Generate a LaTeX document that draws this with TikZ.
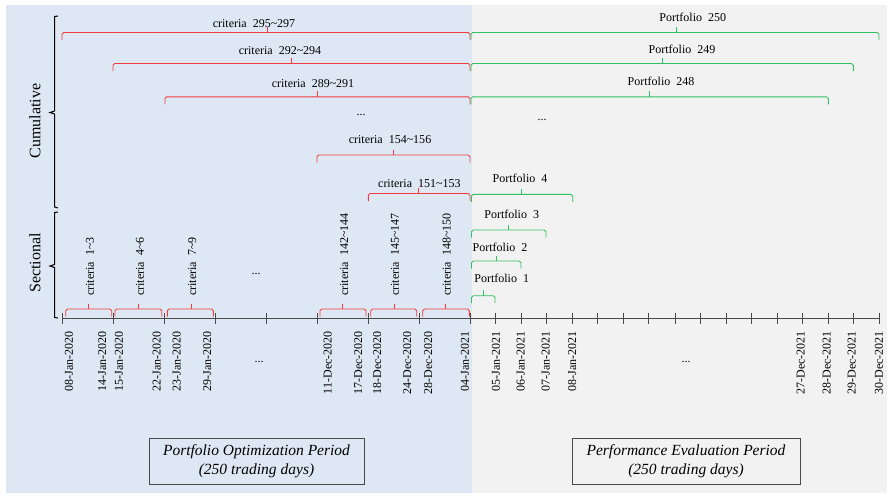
\documentclass[tikz,border=0pt]{standalone}
\usepackage{fontspec}
\setmainfont{Liberation Serif}
\definecolor{bgblue}{HTML}{DEE8F4}
\definecolor{bggrey}{HTML}{F2F2F2}
\definecolor{bred}{HTML}{F03C3C}
\definecolor{bgreen}{HTML}{33C060}
\definecolor{axisc}{HTML}{4A4A4A}
\newcommand\tlbr[6]{% name, colour, x1, x2, y, tip
  \coordinate (#1a) at (#3,#5+7.5);
  \coordinate (#1b) at (#4,#5+7.5);
  \coordinate (#1t) at (#6,#5-5.5);
  \draw[#2, brline, rounded corners=1.8pt] (#1a) -- (#3,#5) -- (#4,#5) -- (#1b);
  \draw[#2, brline] (#6,#5) -- (#1t);}
\tikzset{
  brline/.style={line width=0.9pt},
  lab/.style={font=\fontsize{12}{14}\selectfont, inner sep=0pt},
  datelab/.style={lab, rotate=90, anchor=east},
  vlab/.style={lab, rotate=90, anchor=west},
  sidelab/.style={font=\fontsize{16}{18}\selectfont, rotate=90, inner sep=0pt},
  periodbox/.style={draw=axisc, line width=0.7pt, font=\fontsize{15.5}{19}\selectfont\itshape,
    align=center, inner sep=0pt, minimum height=46pt},
  axline/.style={draw=axisc, line width=0.9pt},
}
\newcommand\crit[1]{criteria\ \ #1}
\newcommand\pf[1]{Portfolio\ \ #1}
\begin{document}
\begin{tikzpicture}[x=1pt,y=-1pt]
\useasboundingbox (0,0) rectangle (893,493);
% backgrounds
\fill[bgblue] (6,5) rectangle (472,493);
\fill[bggrey] (472,5) rectangle (887,493);

% vertical brackets (y axis)
\draw[black, line width=1pt] (58,16) -- (54.5,16.5) -- (54.5,111) -- (50,112.5) -- (54.5,114) -- (54.5,207) -- (58,208);
\draw[black, line width=1pt] (58,212) -- (54.5,212.5) -- (54.5,264.5) -- (50,266) -- (54.5,267.5) -- (54.5,317.5) -- (58,318);
\node[sidelab] (cum) at (35,121) {Cumulative};
\node[sidelab] (sec) at (35,263) {Sectional};

% time axis
\coordinate (axL) at (62,318.5);
\coordinate (axR) at (879,318.5);
\draw[axline] (axL) -- (axR);
\foreach \x in {62,113,164,215,266.5,317,368,419,470,495,521.5,546.5,572.5,597.5,623,648.5,675,700,726,751,777,802,828,853,879}
  \draw[axline] (\x,312.5) -- (\x,324);

% date labels
\foreach \x/\t in {69/08-Jan-2020,102.3/14-Jan-2020,119/15-Jan-2020,156.7/22-Jan-2020,176.7/23-Jan-2020,207.3/29-Jan-2020,
  327.7/11-Dec-2020,358.3/17-Dec-2020,377.3/18-Dec-2020,407.3/24-Dec-2020,428.3/28-Dec-2020,465/04-Jan-2021,
  496/05-Jan-2021,520.7/06-Jan-2021,545.7/07-Jan-2021,572.3/08-Jan-2021,
  800.7/27-Dec-2021,826.7/28-Dec-2021,851.7/29-Dec-2021,879/30-Dec-2021}
  \node[datelab] (d\x) at (\x,331) {\t};
\node[lab] (dotsA) at (259,362) {...};
\node[lab] (dotsB) at (686,362) {...};

% cumulative criteria (red)
\tlbr{c1}{bred}{62}{470}{32.5}{267}
\node[lab] (lc1) at (254,23.5) {\crit{295\textasciitilde297}};
\tlbr{c2}{bred}{113}{470}{63.5}{291.5}
\node[lab] (lc2) at (280,51) {\crit{292\textasciitilde294}};
\tlbr{c3}{bred}{165}{470}{96.8}{317.5}
\node[lab] (lc3) at (313,84) {\crit{289\textasciitilde291}};
\node[lab] (dotsC) at (361,115) {...};
\tlbr{c4}{bred}{317}{470}{155}{393.3}
\node[lab] (lc4) at (390,140) {\crit{154\textasciitilde156}};
\tlbr{c5}{bred}{368.3}{470}{193.5}{418.3}
\node[lab] (lc5) at (419.4,183.5) {\crit{151\textasciitilde153}};

% portfolios (green)
\tlbr{p1}{bgreen}{471}{879}{32.5}{676}
\node[lab] (lp1) at (692.8,17) {\pf{250}};
\tlbr{p2}{bgreen}{471}{853.3}{63.5}{662}
\node[lab] (lp2) at (682,49.5) {\pf{249}};
\tlbr{p3}{bgreen}{471}{828.3}{96.8}{649.3}
\node[lab] (lp3) at (661,81.7) {\pf{248}};
\node[lab] (dotsD) at (542,120) {...};
\tlbr{p4}{bgreen}{471.5}{572.7}{194.3}{521.7}
\node[lab] (lp4) at (520,178.5) {\pf{4}};
\tlbr{p5}{bgreen}{471.5}{546}{230}{508.3}
\node[lab] (lp5) at (511.7,214.5) {\pf{3}};
\tlbr{p6}{bgreen}{471.5}{521}{261}{496}
\node[lab] (lp6) at (500,247.5) {\pf{2}};
\tlbr{p7}{bgreen}{471.5}{495}{295.7}{483.3}
\node[lab] (lp7) at (501.7,278) {\pf{1}};

% sectional criteria (red)
\tlbr{s1}{bred}{65.7}{111.7}{309}{88.7}
\node[vlab] (ls1) at (90,296) {\crit{1\textasciitilde3}};
\tlbr{s2}{bred}{115}{161.7}{309}{138.3}
\node[vlab] (ls2) at (140,296) {\crit{4\textasciitilde6}};
\tlbr{s3}{bred}{167.3}{213.3}{309}{191}
\node[vlab] (ls3) at (192.3,296) {\crit{7\textasciitilde9}};
\node[lab] (dotsE) at (256,274) {...};
\tlbr{s4}{bred}{320}{366}{309}{342.3}
\node[vlab] (ls4) at (344.3,296) {\crit{142\textasciitilde144}};
\tlbr{s5}{bred}{370.7}{416.7}{309}{394.3}
\node[vlab] (ls5) at (395,296) {\crit{145\textasciitilde147}};
\tlbr{s6}{bred}{422.7}{469.3}{309}{445.7}
\node[vlab] (ls6) at (446.7,296) {\crit{148\textasciitilde150}};

% period boxes
\node[periodbox, fill=bgblue, minimum width=215pt] (opt) at (256.5,461) {Portfolio Optimization Period\\(250 trading days)};
\node[periodbox, fill=bggrey, minimum width=228pt] (eval) at (686,461) {Performance Evaluation Period\\(250 trading days)};
\end{tikzpicture}
\end{document}
